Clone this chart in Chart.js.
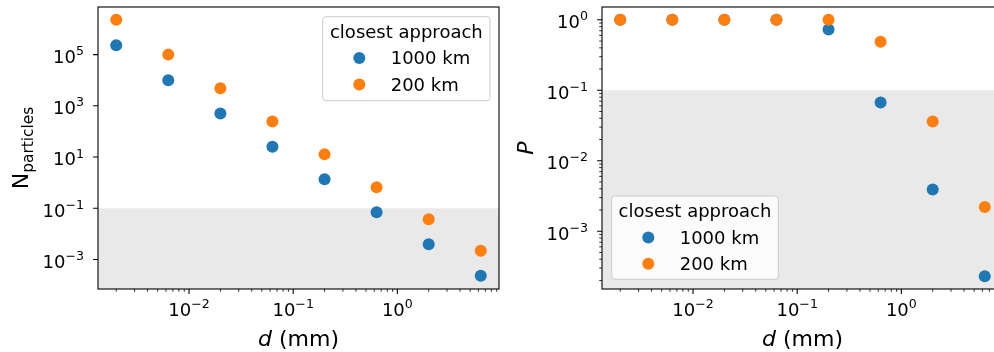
<!DOCTYPE html>
<html>
<head>
<meta charset="utf-8">
<script src="https://cdn.jsdelivr.net/npm/chart.js@4.4.1/dist/chart.umd.min.js"></script>
<style>
    html, body { margin: 0; padding: 0; background: #fff; }
    #wrap { position: relative; width: 994px; height: 352px; overflow: hidden; }
    #wrap canvas { position: absolute; top: 0; }
</style>
</head>
<body>
<div id="wrap">
    <canvas id="n-chart" width="510" height="352" style="left:0"></canvas>
    <canvas id="p-chart" width="510" height="352" style="left:500px"></canvas>
</div>
<script>
// particle diameters (mm)
const diameters = [0.002, 0.00632, 0.02, 0.0632, 0.2, 0.632, 2, 6.32];
const seriesNames = ['1000 km', '200 km'];
const seriesColors = ['#1f77b4', '#ff7f0e'];
const legendTitle = 'closest approach';

// expected number of particles
const nFar = [2.3e5, 1.0e4, 500, 25, 1.35, 0.07, 0.0039, 2.3e-4];
const nNear = [2.3e6, 1.0e5, 4900, 245, 12.7, 0.66, 0.037, 0.0022];

// probability of at least one hit
const pFar = [1, 1, 1, 1, 0.73, 0.067, 0.0039, 2.3e-4];
const pNear = [1, 1, 1, 1, 1, 0.49, 0.036, 0.0022];

// tick exponents
const xTickExp = [-2, -1, 0];
const nTickExp = [-3, -1, 1, 3, 5];
const pTickExp = [-3, -2, -1, 0];

const FONT = "'DejaVu Sans'";
const TICK_PX = 18;
const SUP_PX = 12.6;

function points(ys) {
    return diameters.map((d, i) => ({ x: d, y: ys[i] }));
}

function drawPow(ctx, e, x, base, align) {
    const sup = e < 0 ? '\u2212' + (-e) : String(e);
    ctx.font = `${TICK_PX}px ${FONT}`;
    const w1 = ctx.measureText('10').width;
    ctx.font = `${SUP_PX}px ${FONT}`;
    const w2 = ctx.measureText(sup).width;
    const x0 = align === 'right' ? x - w1 - w2 : x - (w1 + w2) / 2;
    ctx.textAlign = 'left';
    ctx.textBaseline = 'alphabetic';
    ctx.font = `${TICK_PX}px ${FONT}`;
    ctx.fillText('10', x0, base);
    ctx.font = `${SUP_PX}px ${FONT}`;
    ctx.fillText(sup, x0 + w1, base - 7.7);
}

function minorValues(min, max) {
    const out = [];
    for (let e = Math.floor(Math.log10(min)); e <= Math.ceil(Math.log10(max)); e++) {
        for (let m = 2; m <= 9; m++) {
            const v = m * Math.pow(10, e);
            if (v >= min && v <= max) out.push(v);
        }
    }
    return out;
}

function drawLegend(ctx, L) {
    ctx.save();
    ctx.beginPath();
    ctx.roundRect(L.x, L.y, L.w, L.h, 3);
    ctx.fillStyle = 'rgba(255,255,255,0.8)';
    ctx.fill();
    ctx.strokeStyle = '#cccccc';
    ctx.lineWidth = 1;
    ctx.stroke();
    ctx.fillStyle = '#000';
    ctx.font = `18px ${FONT}`;
    ctx.textAlign = 'center';
    ctx.textBaseline = 'alphabetic';
    ctx.fillText(legendTitle, L.x + L.w / 2, L.y + 21);
    ctx.textAlign = 'left';
    seriesNames.forEach((name, i) => {
        ctx.beginPath();
        ctx.arc(L.x + 36.6, L.y + 41.4 + i * 26.3, 6, 0, Math.PI * 2);
        ctx.fillStyle = seriesColors[i];
        ctx.fill();
        ctx.fillStyle = '#000';
        ctx.fillText(name, L.x + 68, L.y + 47.6 + i * 26.3);
    });
    ctx.restore();
}

function decor(cfg) {
    return {
        id: 'decor',
        beforeDatasetsDraw(chart) {
            const { ctx, chartArea: a, scales: { x, y } } = chart;
            const yb = y.getPixelForValue(0.1);
            ctx.save();
            ctx.fillStyle = '#e9e9e9';
            ctx.fillRect(a.left, yb, a.right - a.left, a.bottom - yb);
            ctx.restore();
        },
        afterDatasetsDraw(chart) {
            const { ctx, chartArea: a, scales: { x, y } } = chart;
            ctx.save();
            ctx.strokeStyle = '#000';
            ctx.fillStyle = '#000';

            // frame
            ctx.lineWidth = 1.1;
            ctx.strokeRect(a.left, a.top, a.right - a.left, a.bottom - a.top);

            // x ticks
            ctx.beginPath();
            xTickExp.forEach(e => {
                const px = x.getPixelForValue(Math.pow(10, e));
                ctx.moveTo(px, a.bottom); ctx.lineTo(px, a.bottom + 4.9);
            });
            cfg.yTickExp.forEach(e => {
                const py = y.getPixelForValue(Math.pow(10, e));
                ctx.moveTo(a.left, py); ctx.lineTo(a.left - 4.9, py);
            });
            ctx.stroke();

            ctx.lineWidth = 0.8;
            ctx.beginPath();
            minorValues(x.min, x.max).forEach(v => {
                const px = x.getPixelForValue(v);
                ctx.moveTo(px, a.bottom); ctx.lineTo(px, a.bottom + 2.8);
            });
            if (cfg.yMinor) {
                minorValues(y.min, y.max).forEach(v => {
                    const py = y.getPixelForValue(v);
                    ctx.moveTo(a.left, py); ctx.lineTo(a.left - 2.8, py);
                });
            }
            ctx.stroke();

            // tick labels
            xTickExp.forEach(e => {
                drawPow(ctx, e, x.getPixelForValue(Math.pow(10, e)), a.bottom + 27, 'center');
            });
            cfg.yTickExp.forEach(e => {
                drawPow(ctx, e, a.left - 14, y.getPixelForValue(Math.pow(10, e)) + 8.3, 'right');
            });

            // x title
            ctx.font = `italic 22px ${FONT}`;
            const wd = ctx.measureText('d').width;
            ctx.font = `22px ${FONT}`;
            const wr = ctx.measureText(' (mm)').width;
            const x0 = (a.left + a.right) / 2 - (wd + wr) / 2;
            ctx.textAlign = 'left';
            ctx.font = `italic 22px ${FONT}`;
            ctx.fillText('d', x0, 346);
            ctx.font = `22px ${FONT}`;
            ctx.fillText(' (mm)', x0 + wd, 346);

            // y title
            ctx.translate(cfg.yTitleX, (a.top + a.bottom) / 2);
            ctx.rotate(-Math.PI / 2);
            if (cfg.yTitleSub) {
                ctx.font = `22px ${FONT}`;
                const wm = ctx.measureText(cfg.yTitle).width;
                ctx.font = `15.4px ${FONT}`;
                const ws = ctx.measureText(cfg.yTitleSub).width;
                const s = -(wm + ws) / 2;
                ctx.font = `22px ${FONT}`;
                ctx.fillText(cfg.yTitle, s, 0);
                ctx.font = `15.4px ${FONT}`;
                ctx.fillText(cfg.yTitleSub, s + wm, 4.6);
            } else {
                ctx.font = `italic 22px ${FONT}`;
                ctx.textAlign = 'center';
                ctx.fillText(cfg.yTitle, 0, 0);
            }
            ctx.restore();

            drawLegend(ctx, cfg.legend);
        }
    };
}

function makeChart(id, far, near, yMin, yMax, yWidth, padRight, cfg) {
    return new Chart(document.getElementById(id), {
        type: 'scatter',
        data: {
            datasets: [{
                label: seriesNames[0],
                data: points(far),
                backgroundColor: seriesColors[0],
                borderWidth: 0,
                pointRadius: 6,
                order: 2,
            }, {
                label: seriesNames[1],
                data: points(near),
                backgroundColor: seriesColors[1],
                borderWidth: 0,
                pointRadius: 6,
                order: 1,
            }]
        },
        options: {
            responsive: false,
            animation: false,
            events: [],
            layout: { padding: { left: 0, right: padRight, top: 7, bottom: 0 } },
            plugins: { legend: { display: false }, tooltip: { enabled: false } },
            scales: {
                x: {
                    type: 'logarithmic',
                    min: Math.pow(10, -2.874),
                    max: Math.pow(10, 0.976),
                    grid: { display: false },
                    border: { display: false },
                    ticks: { display: false },
                    afterFit: s => { s.height = 63; }
                },
                y: {
                    type: 'logarithmic',
                    min: yMin,
                    max: yMax,
                    grid: { display: false },
                    border: { display: false },
                    ticks: { display: false },
                    afterFit: s => { s.width = yWidth; }
                }
            }
        },
        plugins: [decor(cfg)]
    });
}

makeChart('n-chart', nFar, nNear, Math.pow(10, -4.14), Math.pow(10, 6.86), 98, 11, {
    yTickExp: nTickExp,
    yMinor: false,
    yTitle: 'N',
    yTitleSub: 'particles',
    yTitleX: 28.3,
    legend: { x: 322.7, y: 16.7, w: 167.3, h: 84 }
});

makeChart('p-chart', pFar, pNear, Math.pow(10, -3.82), Math.pow(10, 0.182), 102, 7, {
    yTickExp: pTickExp,
    yMinor: true,
    yTitle: 'P',
    yTitleSub: null,
    yTitleX: 33,
    legend: { x: 111.7, y: 196, w: 166.6, h: 83.3 }
});
</script>
</body>
</html>
